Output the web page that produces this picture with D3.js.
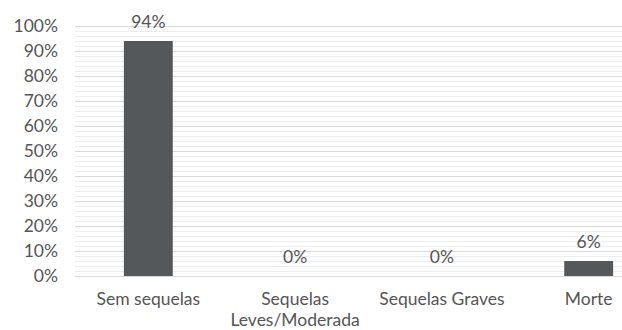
<!DOCTYPE html>
<html>
<head>
<meta charset="utf-8">
<script src="https://cdn.jsdelivr.net/npm/d3@7"></script>
<style>
  html, body { margin: 0; padding: 0; background: #fff; }
  svg { display: block; font-family: Lato, "Open Sans", sans-serif; }
</style>
</head>
<body>
<div id="chart"></div>
<script>
  // data
  var categories = ["Sem sequelas", "Sequelas\nLeves/Moderada", "Sequelas Graves", "Morte"];
  var values = [94, 0, 0, 6];
  var yTicks = [0, 10, 20, 30, 40, 50, 60, 70, 80, 90, 100];
  var minorTicks = d3.range(0, 101, 2);

  var W = 622, H = 330;
  var TEXT = "#555555", BAR = "#54585a";

  var svg = d3.select("#chart").append("svg")
    .attr("width", W).attr("height", H)
    .attr("viewBox", "0 0 " + W + " " + H);

  // plot area runs past the right edge (the source picture is cropped)
  var x = d3.scaleBand().domain(categories).range([75, 662])
    .paddingInner(0.667).paddingOuter(0.333);
  var y = d3.scaleLinear().domain([0, 100]).range([276, 26]);

  // minor grid every 2%
  svg.append("g").selectAll("line").data(minorTicks.filter(function (d) { return d % 10; }))
    .join("line")
    .attr("x1", 75).attr("x2", W)
    .attr("y1", function (d) { return Math.round(y(d)) + 0.5; })
    .attr("y2", function (d) { return Math.round(y(d)) + 0.5; })
    .attr("stroke", "#ececec").attr("stroke-width", 1);

  // major grid every 10%
  svg.append("g").selectAll("line").data(yTicks)
    .join("line")
    .attr("x1", 75).attr("x2", W)
    .attr("y1", function (d) { return Math.round(y(d)) + 0.5; })
    .attr("y2", function (d) { return Math.round(y(d)) + 0.5; })
    .attr("stroke", "#d9d9d9").attr("stroke-width", 1.2);

  // y axis labels
  var yAx = svg.append("g").attr("transform", "translate(64,0)")
    .call(d3.axisLeft(y).tickValues(yTicks).tickFormat(function (d) { return d + "%"; })
      .tickSize(0).tickPadding(6));
  yAx.select(".domain").remove();
  yAx.selectAll("text").attr("fill", TEXT).attr("font-size", 17.5)
    .attr("font-family", "Lato, sans-serif");

  // bars
  svg.append("g").selectAll("rect").data(values)
    .join("rect")
    .attr("x", function (d, i) { return x(categories[i]); })
    .attr("width", x.bandwidth())
    .attr("y", function (d) { return y(d); })
    .attr("height", function (d) { return y(0) - y(d); })
    .attr("fill", BAR);

  // value labels
  svg.append("g").selectAll("text").data(values)
    .join("text")
    .attr("x", function (d, i) { return x(categories[i]) + x.bandwidth() / 2; })
    .attr("y", function (d) { return y(d) - 13; })
    .attr("text-anchor", "middle")
    .attr("fill", TEXT).attr("font-size", 17.5)
    .text(function (d) { return d + "%"; });

  // category labels
  var cat = svg.append("g").selectAll("text").data(categories)
    .join("text")
    .attr("x", function (d) { return x(d) + x.bandwidth() / 2; })
    .attr("y", 305)
    .attr("text-anchor", "middle")
    .attr("fill", TEXT).attr("font-size", 17.5);
  cat.each(function (d) {
    var t = d3.select(this), cx = t.attr("x");
    d.split("\n").forEach(function (part, k) {
      t.append("tspan").attr("x", cx).attr("dy", k ? 21 : 0).text(part);
    });
  });
</script>
</body>
</html>
